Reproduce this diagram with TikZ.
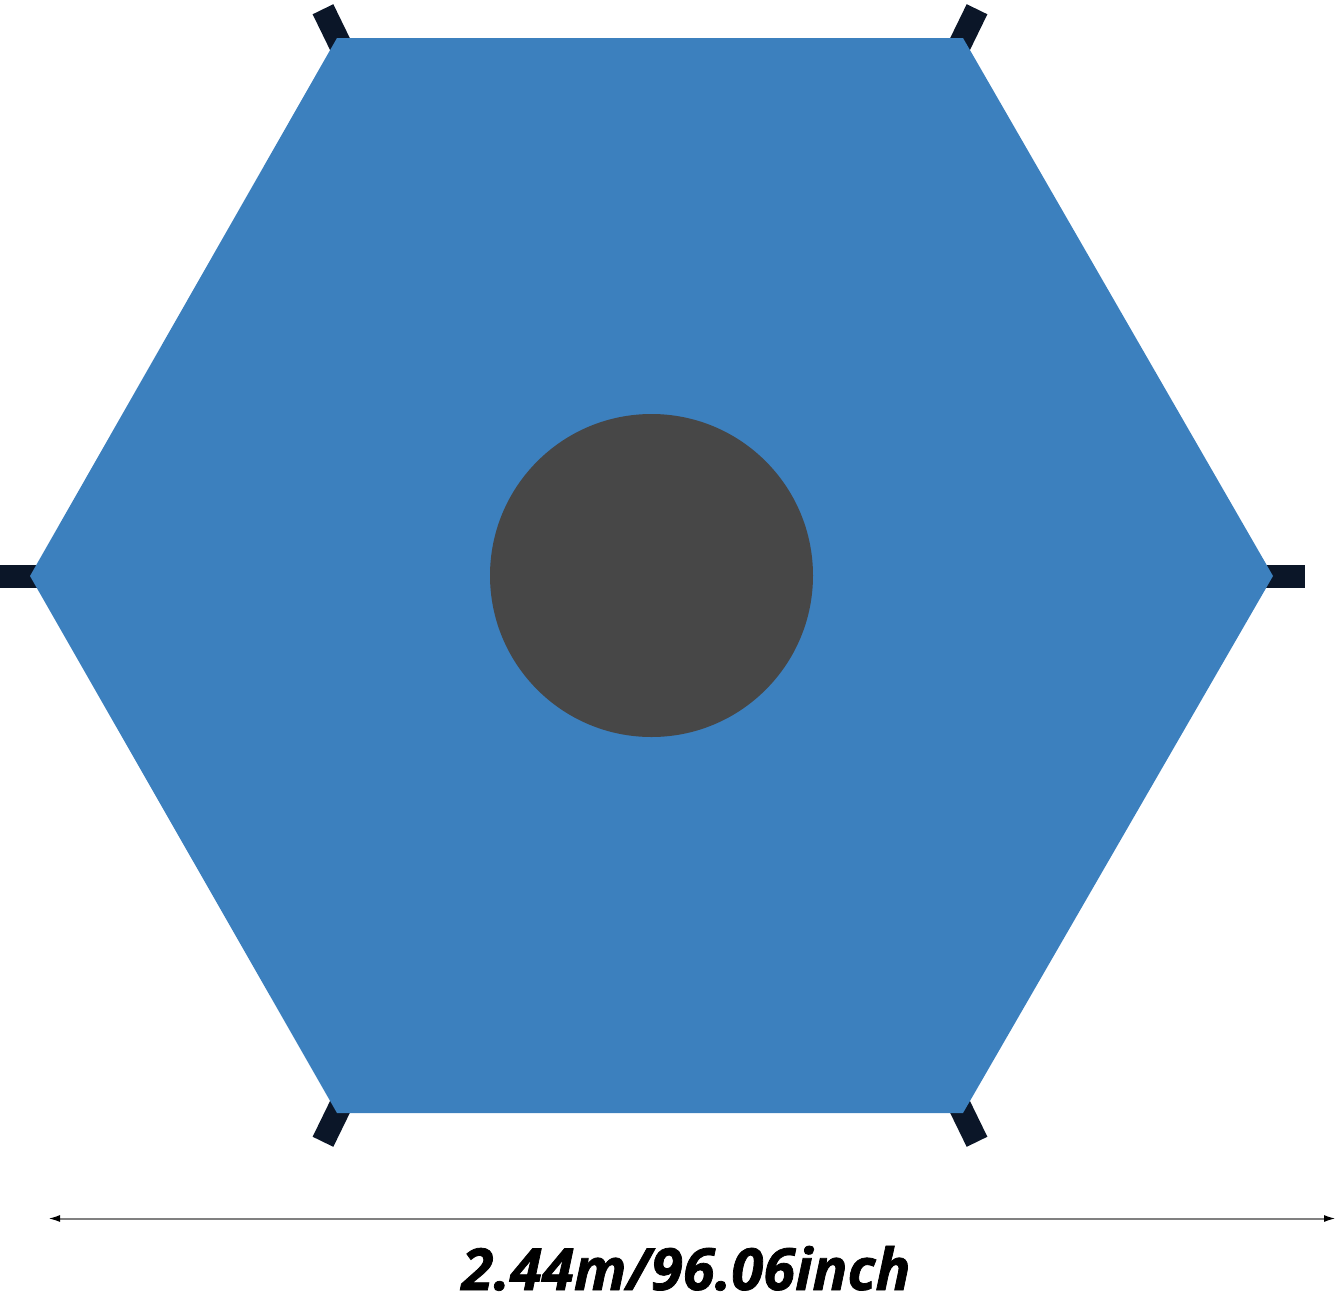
\documentclass[tikz,border=0pt]{standalone}
\usepackage{fontspec}
\setmainfont{Open Sans}
\newfontface\lblfont{Open Sans Bold Italic}[FakeBold=1.3]
\usetikzlibrary{arrows.meta,calc}
\definecolor{tarpblue}{HTML}{3C80BE}
\definecolor{holegray}{HTML}{474747}
\definecolor{tabnavy}{HTML}{0B1628}
\definecolor{linegray}{HTML}{808080}
\tikzset{
  tabbox/.style={rectangle, fill=tabnavy, minimum width=40pt, minimum height=23pt, inner sep=0pt},
  dimline/.style={draw=linegray, line width=2pt, {Latex[length=12pt,width=7pt,color=black]}-{Latex[length=12pt,width=7pt,color=black]}},
  dimlabel/.style={font=\lblfont\fontsize{58}{62}\selectfont, text=black, inner sep=0pt}
}
\begin{document}
\begin{tikzpicture}[x=1pt,y=1pt]
\useasboundingbox (0,0) rectangle (1339,-1304);
\coordinate (c) at (651.5,-575.5);
\coordinate (v0) at (1273,-576);
\coordinate (v1) at (963,-38);
\coordinate (v2) at (337,-38);
\coordinate (v3) at (30,-576);
\coordinate (v4) at (337,-1113);
\coordinate (v5) at (963,-1113);
\foreach \i/\a in {0/0,1/64,2/116,3/180,4/244,5/296}{
  \node[tabbox, rotate=\a] (t\i) at ($(v\i)+(\a:12)$) {};
}
\fill[tarpblue] (v0) -- (v1) -- (v2) -- (v3) -- (v4) -- (v5) -- cycle;
\node[circle, fill=holegray, minimum size=323pt, inner sep=0pt] (hole) at (c) {};
\coordinate (L) at (48,-1218.5);
\coordinate (R) at (1336,-1218.5);
\draw[dimline] (L) -- (R);
\node[dimlabel, anchor=base] (lbl) at (686,-1290) {2.44m/96.06inch};
\end{tikzpicture}
\end{document}
